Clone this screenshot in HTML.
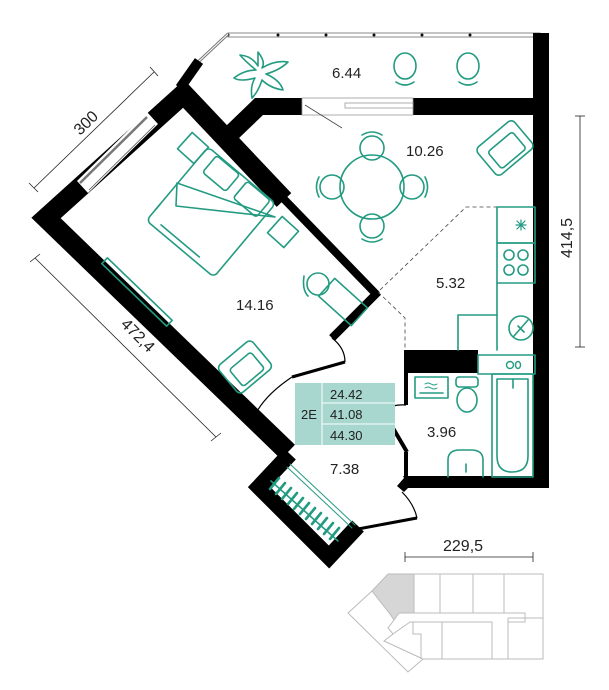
<!DOCTYPE html>
<html><head><meta charset="utf-8"><style>
html,body{margin:0;padding:0;background:#fff;}
svg{display:block;}
text{font-family:"Liberation Sans",sans-serif;fill:#222;}
</style></head><body>
<svg width="609" height="690" viewBox="0 0 609 690" xmlns="http://www.w3.org/2000/svg">
<!-- balcony rail -->
<rect x="228" y="33" width="312" height="4" fill="#fff" stroke="#888" stroke-width="1"/>
<g fill="#111"><circle cx="228" cy="35" r="1.5"/><circle cx="278" cy="35" r="1.5"/><circle cx="326" cy="35" r="1.5"/><circle cx="374" cy="35" r="1.5"/><circle cx="422" cy="35" r="1.5"/><circle cx="470" cy="35" r="1.5"/></g>
<line x1="228" y1="34" x2="197" y2="63" stroke="#777" stroke-width="3"/>
<line x1="228" y1="34" x2="197" y2="63" stroke="#fff" stroke-width="1"/>
<!-- right wall -->
<rect x="533" y="33" width="16" height="455" fill="#000"/>
<!-- balcony bottom wall -->
<polygon points="255,98 302,98 302,115 263,115 237,140 226,126" fill="#000"/>
<rect x="413" y="98" width="120" height="17" fill="#000"/>
<rect x="302" y="98" width="111" height="17" fill="#fff" stroke="#999" stroke-width="0.8"/>
<rect x="345" y="103" width="68" height="5" fill="#fff" stroke="#999" stroke-width="0.8"/>
<line x1="305" y1="105" x2="342" y2="128" stroke="#444" stroke-width="0.8"/>
<!-- upper diagonal wall near balcony -->
<line x1="199" y1="61" x2="180" y2="88" stroke="#000" stroke-width="10"/>
<!-- NW + SW outer walls -->
<polyline points="189,89 46,218 288,452" fill="none" stroke="#000" stroke-width="20" stroke-linejoin="miter"/>
<!-- window in NW wall -->
<polygon points="147,112 158,124 88,193 77,181" fill="#fff"/>
<line x1="147" y1="117" x2="80" y2="183" stroke="#777" stroke-width="2.5"/>
<line x1="155" y1="125" x2="89" y2="190" stroke="#555" stroke-width="0.8"/>
<!-- loggia walls -->
<polyline points="290,454 259,487 329,557 358,526" fill="none" stroke="#000" stroke-width="16" stroke-linejoin="miter"/>
<!-- bedroom/living wall -->
<line x1="180" y1="90" x2="284" y2="200" stroke="#000" stroke-width="20"/>
<line x1="282" y1="197" x2="377" y2="295" stroke="#000" stroke-width="8"/>
<line x1="378" y1="292" x2="332" y2="338" stroke="#000" stroke-width="8"/>
<!-- doors hall -->
<path d="M332,338 Q345,348 345,362" fill="none" stroke="#000" stroke-width="1.2"/>
<line x1="345" y1="362" x2="292" y2="377" stroke="#000" stroke-width="3"/>
<path d="M292,377 Q265,395 255,415" fill="none" stroke="#000" stroke-width="1.2"/>
<!-- bathroom -->
<rect x="405" y="350" width="73" height="23" fill="#000"/>
<line x1="406" y1="350" x2="406" y2="405" stroke="#000" stroke-width="4"/>
<path d="M406,405 Q392,404 383,411" fill="none" stroke="#000" stroke-width="1.2"/>
<line x1="383" y1="411" x2="407" y2="452" stroke="#000" stroke-width="4"/>
<line x1="406" y1="452" x2="406" y2="480" stroke="#000" stroke-width="4"/>
<polygon points="403,476 549,476 549,488 408,488 404,492 397,486 404,478" fill="#000"/>
<!-- entrance door -->
<path d="M402,492 Q414,504 417,518" fill="none" stroke="#000" stroke-width="1.2"/>
<line x1="417" y1="518" x2="358" y2="529" stroke="#000" stroke-width="3"/>
<!-- dashed -->
<polyline points="378,292 405,318 405,350" fill="none" stroke="#444" stroke-width="0.8" stroke-dasharray="4,3"/>
<polyline points="380,290 466,207 535,207" fill="none" stroke="#444" stroke-width="0.8" stroke-dasharray="4,3"/>

<g fill="none" stroke="#239b82" stroke-width="1.6" stroke-linecap="round" stroke-linejoin="round">
<!-- balcony -->
<path d="M258,52 Q266,62 262,68 Q275,60 288,62 Q280,70 266,74 Q280,80 283,90 Q270,88 262,80 Q258,92 252,98 Q250,86 255,78 Q240,82 234,78 Q244,70 256,70 Q246,62 240,55 Q252,56 258,66 Z"/>
<ellipse cx="405" cy="66" rx="11" ry="13"/><path d="M396,82 Q405,88 414,82"/>
<ellipse cx="468" cy="66" rx="11" ry="13"/><path d="M459,82 Q468,88 477,82"/>
<!-- living -->
<circle cx="372" cy="187" r="32"/>
<circle cx="372" cy="148" r="12"/><circle cx="372" cy="226" r="12"/><circle cx="332" cy="187" r="12"/><circle cx="412" cy="187" r="12"/>
<path d="M362,135 Q372,129 382,135"/><path d="M362,239 Q372,245 382,239"/><path d="M319,177 Q314,187 319,197"/><path d="M425,177 Q430,187 425,197"/>
<g transform="translate(505,148) rotate(-40)"><rect x="-24" y="-18" width="48" height="36" rx="5"/><rect x="-16" y="-8" width="32" height="22" rx="3"/></g>
<!-- kitchen -->
<rect x="497" y="207" width="38" height="36"/><rect x="497" y="243" width="38" height="40"/>
<polyline points="497,283 497,315 458,315 458,350"/><line x1="497" y1="315" x2="497" y2="350"/>
<circle cx="509" cy="255" r="5"/><circle cx="523" cy="255" r="5"/><circle cx="509" cy="270" r="5"/><circle cx="523" cy="270" r="5"/>
<path d="M516,225 h10 M521,220 v10 M517,221 l8,8 M525,221 l-8,8" stroke-width="1.2"/>
<circle cx="521" cy="328" r="12"/><line x1="514" y1="336" x2="528" y2="320"/><line x1="518" y1="326" x2="524" y2="332"/>
<!-- bedroom -->
<g transform="translate(211,212) rotate(40)"><rect x="-44" y="-48" width="88" height="96" rx="5"/><rect x="-32" y="-47" width="30" height="22" rx="3"/><rect x="8" y="-47" width="30" height="22" rx="3"/><path d="M-30,42 L20,42 M-44,26 L-44,34"/></g>
<polyline points="177,183 176,206 275,217 177,183"/>
<g transform="translate(193,148) rotate(42)"><rect x="-11" y="-11" width="22" height="22"/></g>
<g transform="translate(283,232) rotate(42)"><rect x="-11" y="-11" width="22" height="22"/></g>
<g transform="translate(343,302) rotate(42)"><rect x="-22" y="-12" width="44" height="24"/></g>
<circle cx="318" cy="284" r="11"/><path d="M304,276 Q302,290 308,296"/>
<g transform="translate(137,292) rotate(44)"><rect x="-45" y="-4" width="90" height="8"/></g>
<g transform="translate(245,367) rotate(-40)"><rect x="-22" y="-18" width="44" height="36" rx="5"/><rect x="-14" y="-8" width="28" height="22" rx="3"/></g>
<!-- bathroom -->
<rect x="415" y="377" width="33" height="21"/><path d="M420,393 L443,393"/>
<path d="M425,384 q3,-2 6,0 t6,0 M425,388 q3,-2 6,0 t6,0" stroke-width="1"/>
<rect x="456" y="377" width="22" height="10" rx="3"/><ellipse cx="467" cy="400" rx="10" ry="12"/>
<path d="M448,477 L448,460 Q448,450 460,450 L471,450 Q483,450 483,460 L483,477"/><line x1="466" y1="464" x2="466" y2="472"/>
<rect x="492" y="374" width="41" height="103"/><path d="M497,379 L528,379 L528,456 Q528,472 512,472 Q497,472 497,456 Z"/><line x1="513" y1="379" x2="513" y2="388"/>
<rect x="478" y="355" width="57" height="19"/>
<circle cx="510" cy="365" r="3.5" stroke-width="1.4"/><ellipse cx="518" cy="365" rx="2.5" ry="3.5" stroke-width="1.4"/>
<!-- loggia radiator -->
<line x1="287" y1="467" x2="352" y2="528" stroke-width="1"/>
<line x1="290" y1="464" x2="355" y2="525" stroke-width="1"/>
<g stroke-width="2.6">
<path d="M270,489 l9,-11 M276,494 l9,-11 M282,499 l9,-11 M288,504 l9,-11 M294,509 l9,-11 M300,514 l9,-11 M306,519 l9,-11 M312,524 l9,-11 M318,529 l9,-11 M324,534 l9,-11 M330,539 l9,-11"/>
</g>
<line x1="271" y1="481" x2="338" y2="541" stroke-width="1.6"/>
</g>

<!-- badge -->
<rect x="295" y="383" width="100" height="62" fill="#a7d7ce"/>
<g stroke="#fff" stroke-width="1"><line x1="322" y1="383" x2="322" y2="445"/><line x1="322" y1="403" x2="395" y2="403"/><line x1="322" y1="424" x2="395" y2="424"/></g>
<g font-size="13">
<text x="301" y="419">2E</text>
<text x="330" y="399">24.42</text><text x="330" y="419">41.08</text><text x="330" y="440">44.30</text>
</g>
<!-- labels -->
<g font-size="15">
<text x="332" y="78">6.44</text>
<text x="406" y="156">10.26</text>
<text x="236" y="310">14.16</text>
<text x="436" y="288">5.32</text>
<text x="427" y="437">3.96</text>
<text x="330" y="474">7.38</text>
</g>
<!-- dimensions -->
<g stroke="#222" stroke-width="0.8">
<line x1="34" y1="188" x2="154" y2="72"/><line x1="29" y1="183" x2="38" y2="192"/><line x1="150" y1="67" x2="158" y2="76"/>
<line x1="35" y1="258" x2="216" y2="437"/><line x1="30" y1="262" x2="40" y2="254"/><line x1="211" y1="441" x2="221" y2="433"/>
<line x1="580" y1="116" x2="580" y2="347"/><line x1="575" y1="116" x2="585" y2="116"/><line x1="575" y1="347" x2="585" y2="347"/>
<line x1="405" y1="557" x2="533" y2="557"/><line x1="405" y1="552" x2="405" y2="562"/><line x1="533" y1="552" x2="533" y2="562"/>
</g>
<g font-size="16">
<text x="0" y="0" transform="translate(80,136) rotate(-44)">300</text>
<text x="0" y="0" transform="translate(120,325) rotate(45)">472,4</text>
<text x="0" y="0" transform="translate(572,258) rotate(-90)">414,5</text>
<text x="443" y="551">229,5</text>
</g>
<!-- mini map -->
<polygon points="388,574 414,574 414,613 399,613 394,620 390,614 372,591" fill="#d6d6d6"/>
<g fill="none" stroke="#bbb" stroke-width="1">
<polygon points="388,574 543,574 543,659 423,659 408,672 348,613 372,591"/>
<line x1="414" y1="574" x2="414" y2="613"/><line x1="440" y1="574" x2="440" y2="613"/><line x1="473" y1="574" x2="473" y2="613"/><line x1="504" y1="574" x2="504" y2="613"/>
<polyline points="372,591 390,614 394,620 399,613 525,613 525,622 508,622"/>
<polyline points="394,620 388,628 393,634 410,622 488,622"/>
<line x1="508" y1="618" x2="543" y2="618"/>
<polyline points="413,622 413,634 421,634 421,659"/><line x1="442" y1="622" x2="442" y2="659"/>
<polyline points="488,622 492,622 492,659"/><line x1="508" y1="618" x2="508" y2="659"/>
<polyline points="393,634 384,641 423,659"/>
</g>
</svg>
</body></html>
